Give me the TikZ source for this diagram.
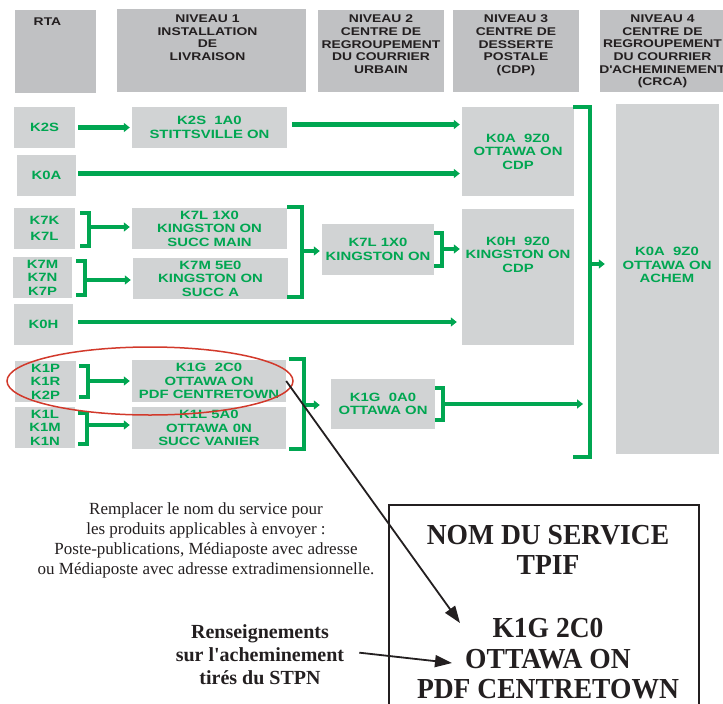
\documentclass[tikz,border=0pt]{standalone}
\usepackage{fontspec}
\setmainfont{Liberation Serif}
\newfontfamily\grfont[FakeStretch=1.24]{Liberation Sans}
\newfontfamily\cndfont[FakeStretch=0.95]{Liberation Serif}
\usetikzlibrary{arrows.meta,positioning}
\definecolor{cpgreen}{RGB}{0,166,81}
\definecolor{boxgray}{RGB}{209,211,212}
\definecolor{hdrgray}{RGB}{192,193,195}
\definecolor{ovalred}{RGB}{210,57,43}
\definecolor{ink}{RGB}{35,31,32}
\begin{document}
\begin{tikzpicture}[x=1pt, y=-1pt,
    hdr/.style 2 args={fill=hdrgray, inner sep=0pt, minimum width=#1, minimum height=#2},
    hdrtxt/.style={text=ink, align=center, inner sep=0pt, font={\grfont\bfseries\fontsize{11.2}{12.6}\selectfont}},
    gbox/.style 2 args={fill=boxgray, inner sep=0pt, minimum width=#1, minimum height=#2,
        text=cpgreen, align=center, font={\grfont\bfseries\fontsize{12}{13.5}\selectfont}},
    gtxt/.style={text=cpgreen, align=center, inner sep=0pt, font={\grfont\bfseries\fontsize{12}{13.5}\selectfont}},
    gline/.style={cpgreen, line width=4.4pt},
    garr/.style={gline, -{Triangle[length=6pt,width=9pt]}, shorten <=2pt, shorten >=2pt},
    brk/.style={gline, line join=miter},
    blkarr/.style={ink, line width=1.8pt, -{Triangle[length=17pt,width=12pt]}}]

  \useasboundingbox (0,0) rectangle (723,704);

  % Kopfzeile
  \node[hdr={81pt}{83pt}] (h0) at (55.5,51.5) {};
  \node[hdr={189pt}{83pt}] (h1) at (211.5,50.5) {};
  \node[hdr={126pt}{82pt}] (h2) at (381,51) {};
  \node[hdr={126pt}{82pt}] (h3) at (516,51) {};
  \node[hdr={125pt}{82pt}] (h4) at (662.5,51) {};
  \node[hdrtxt, below=8pt of h0.north, xshift=-8pt] (t0) {RTA};
  \node[hdrtxt, below=6pt of h1.north, xshift=-4pt] (t1) {NIVEAU 1\\INSTALLATION\\DE\\LIVRAISON};
  \node[hdrtxt, below=5pt of h2.north] (t2) {NIVEAU 2\\CENTRE DE\\REGROUPEMENT\\DU COURRIER\\URBAIN};
  \node[hdrtxt, below=5pt of h3.north] (t3) {NIVEAU 3\\CENTRE DE\\DESSERTE\\POSTALE\\(CDP)};
  \node[hdrtxt, below=5pt of h4.north] (t4) {NIVEAU 4\\CENTRE DE\\REGROUPEMENT\\DU COURRIER\\D\textquotesingle ACHEMINEMENT\\(CRCA)};

  % RTA
  \node[gbox={61pt}{41pt}] (k2s) at (44.5,127.5) {K2S};
  \node[gbox={59pt}{41pt}] (k0a) at (46.5,175.5) {K0A};
  \node[gbox={61pt}{41pt}] (k7k) at (44.5,228.5) {K7K\\[3pt]K7L};
  \node[gbox={59pt}{41pt}] (k7m) at (42.5,277.5) {K7M\\K7N\\K7P};
  \node[gbox={59pt}{41pt}] (k0h) at (43.5,324.5) {K0H};
  \node[gbox={61pt}{41pt}] (k1p) at (45.5,381.5) {K1P\\K1R\\K2P};
  \node[gbox={60pt}{41pt}] (k1l) at (45,427.5) {K1L\\K1M\\K1N};

  % Niveau 1
  \node[gbox={155pt}{41pt}] (n1a) at (209.5,127.5) {K2S\ \ 1A0\\STITTSVILLE ON};
  \node[gbox={155pt}{41pt}] (n1b) at (209.5,228.5) {K7L 1X0\\KINGSTON ON\\SUCC MAIN};
  \node[gbox={155pt}{41pt}] (n1c) at (210.5,278.5) {K7M 5E0\\KINGSTON ON\\SUCC A};
  \node[gbox={154pt}{42pt}] (n1d) at (209,381) {K1G\ \ 2C0\\OTTAWA ON\\PDF CENTRETOWN};
  \node[gbox={154pt}{42pt}] (n1e) at (209,428) {K1L 5A0\\OTTAWA 0N\\SUCC VANIER};

  % Niveau 2
  \node[gbox={112pt}{51pt}] (n2a) at (378,249.5) {K7L 1X0\\KINGSTON ON};
  \node[gbox={104pt}{50pt}] (n2b) at (383,404) {K1G\ \ 0A0\\OTTAWA ON};

  % Niveau 3
  \node[gbox={112pt}{89pt}] (n3a) at (518,151.5) {K0A\ \ 9Z0\\OTTAWA ON\\CDP};
  \node[gbox={112pt}{136pt}] (n3b) at (518,277) {};
  \node[gtxt] (n3bt) at (518,254.5) {K0H\ \ 9Z0\\KINGSTON ON\\CDP};

  % Niveau 4
  \node[gbox={103pt}{350pt}] (n4) at (667.5,279) {};
  \node[gtxt] (n4t) at (667,265) {K0A\ \ 9Z0\\OTTAWA ON\\ACHEM};

  % Klammern
  \foreach \xa/\xb/\ya/\yb in {80/89/213/246, 76/85/261/295, 79/88/366/397, 78/87/413/444,
      287/302/207/297, 434/442/233/266, 289/304/359/449, 435/443/388/420, 573/590/107/457}
    \draw[brk] (\xa,\ya) -- (\xb,\ya) -- (\xb,\yb) -- (\xa,\yb);
  \coordinate (b1) at (89,227);
  \coordinate (b2) at (85,280);
  \coordinate (b3) at (88,381);
  \coordinate (b4) at (87,425);
  \coordinate (b5) at (302,251);
  \coordinate (b6) at (442,249);
  \coordinate (b7) at (304,405);
  \coordinate (b8) at (443,404);
  \coordinate (b9) at (590,264);
  \coordinate (c9) at (590,404);

  % Pfeile
  \draw[garr, shorten <=3pt] (k2s) -- (n1a);
  \draw[garr, shorten <=5pt] ([yshift=3pt]n1a.east) -- ([yshift=3pt]n1a.east -| n3a.west);
  \draw[garr] ([yshift=2pt]k0a.east) -- ([yshift=2pt]k0a.east -| n3a.west);
  \draw[garr, shorten <=5pt, shorten >=5pt] ([yshift=2.5pt]k0h.east) -- ([yshift=2.5pt]k0h.east -| n3b.west);
  \draw[garr, shorten <=0pt] (b1) -- (b1 -| n1b.west);
  \draw[garr, shorten <=0pt] (b2) -- (b2 -| n1c.west);
  \draw[garr, shorten <=0pt] (b3) -- (b3 -| n1d.west);
  \draw[garr, shorten <=0pt] (b4) -- (b4 -| n1e.west);
  \draw[garr, shorten <=0pt] (b5) -- (b5 -| n2a.west);
  \draw[garr, shorten <=0pt] (b6) -- (b6 -| n3b.west);
  \draw[garr, shorten <=0pt, shorten >=11pt] (b7) -- (b7 -| n2b.west);
  \draw[garr, shorten <=0pt, shorten >=7pt] (b8) -- (c9);
  \draw[garr, shorten <=0pt, shorten >=11pt] (b9) -- (b9 -| n4.west);

  % Markierung
  \draw[ovalred, line width=1.5pt] (150,381) ellipse [x radius=143pt, y radius=34pt];

  % Erklaerung
  \node[text=ink, align=center, inner sep=0pt, font={\fontsize{17}{20}\selectfont}] (para) at (206,540)
    {Remplacer le nom du service pour\\les produits applicables à envoyer :\\Poste-publications, Médiaposte avec adresse\\ou Médiaposte avec adresse extradimensionnelle.};
  \node[text=ink, align=center, inner sep=0pt, font={\bfseries\fontsize{20}{23}\selectfont}] (rens) at (260,655)
    {Renseignements\\sur l\textquotesingle acheminement\\tirés du STPN};

  % Etikett
  \node[draw=ink, line width=2pt, minimum width=310pt, minimum height=220pt] (tag) at (544,615) {};
  \node[text=ink, align=center, inner sep=0pt, font={\cndfont\bfseries\fontsize{29}{30}\selectfont}] (svc) at (548,550)
    {NOM DU SERVICE\\TPIF};
  \node[text=ink, align=center, inner sep=0pt, font={\cndfont\bfseries\fontsize{29}{30.5}\selectfont}] (svcid) at (548,659)
    {K1G 2C0\\OTTAWA ON\\PDF CENTRETOWN};
  \coordinate (tip1) at (460,623);
  \coordinate (tip2) at (452,663);
  \draw[blkarr] (n1d.east) -- (tip1);
  \draw[blkarr, shorten <=15pt] ([yshift=4pt]rens.east) -- (tip2);

\end{tikzpicture}
\end{document}
